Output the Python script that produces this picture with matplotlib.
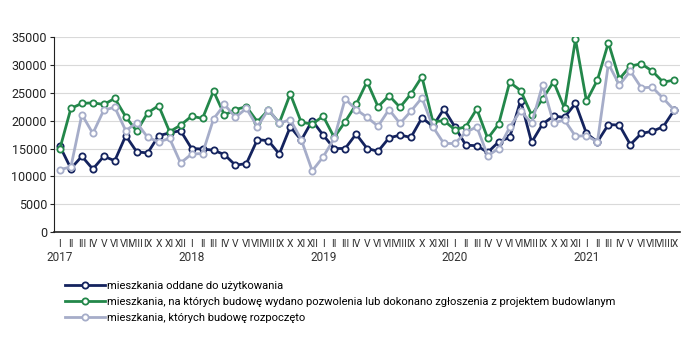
import matplotlib
matplotlib.use("Agg")
import matplotlib.pyplot as plt
import matplotlib.transforms as mtransforms
import numpy as np

plt.rcParams['font.family'] = ['Roboto', 'DejaVu Sans']

# monthly data, I 2017 - IX 2021
months = ["I", "II", "III", "IV", "V", "VI", "VII", "VIII", "IX", "X", "XI", "XII"]
years = ["2017", "2018", "2019", "2020", "2021"]

oddane = [15.4, 11.4, 13.6, 11.3, 13.6, 12.8, 17.3, 14.4, 14.2, 17.3, 17.8, 18.2,
          15.0, 14.9, 14.7, 13.9, 12.0, 12.3, 16.6, 16.4, 14.0, 18.9, 16.5, 20.0,
          17.4, 15.0, 15.0, 17.6, 15.0, 14.5, 16.9, 17.4, 17.0, 20.5, 19.0, 22.1,
          18.9, 15.6, 15.5, 14.3, 16.2, 17.0, 23.6, 16.1, 19.4, 20.8, 20.6, 23.1,
          17.7, 16.2, 19.3, 19.2, 15.7, 17.7, 18.1, 18.9, 21.9]

pozwolenia = [15.0, 22.2, 23.1, 23.2, 22.9, 24.0, 20.7, 18.1, 21.4, 22.7, 18.0, 19.2,
              20.8, 20.4, 25.3, 21.0, 22.0, 22.5, 19.8, 21.9, 19.6, 24.8, 19.7, 19.4,
              20.8, 17.0, 19.8, 22.9, 27.0, 22.5, 24.5, 22.4, 24.8, 27.9, 19.8, 20.0,
              18.4, 18.9, 22.1, 16.8, 19.4, 26.9, 25.4, 21.0, 23.9, 27.0, 22.2, 34.6,
              23.5, 27.3, 34.0, 27.5, 29.8, 30.2, 28.9, 26.9, 27.3]

rozpoczete = [11.2, 11.7, 21.1, 17.7, 21.9, 22.4, 18.2, 19.6, 17.0, 16.2, 16.8, 12.4,
              14.0, 14.1, 20.3, 22.9, 20.6, 22.2, 18.9, 22.0, 19.5, 20.2, 16.6, 11.0,
              13.5, 16.8, 23.9, 22.0, 20.6, 19.0, 22.0, 19.5, 21.7, 24.1, 18.9, 15.9,
              15.9, 17.9, 18.9, 13.7, 15.0, 18.8, 21.8, 19.5, 26.4, 19.6, 20.1, 17.2,
              17.3, 16.2, 30.2, 26.4, 28.9, 25.9, 26.0, 24.0, 21.9]

labels = ["mieszkania oddane do użytkowania",
          "mieszkania, na których budowę wydano pozwolenia lub dokonano zgłoszenia z projektem budowlanym",
          "mieszkania, których budowę rozpoczęto"]
colors = ["#14235e", "#23874a", "#a6adc9"]

x = np.arange(len(oddane))
tick_labels = [months[i % 12] for i in x]

fig = plt.figure(figsize=(7, 3.5), dpi=100)
ax = fig.add_axes([0.077, 0.337, 0.894, 0.557])

for series, label, color in zip([oddane, pozwolenia, rozpoczete], labels, colors):
    ax.plot(x, np.array(series) * 1000, color=color, linewidth=2, label=label,
            marker='o', markersize=4.5, markerfacecolor='white',
            markeredgecolor=color, markeredgewidth=1.3)

ax.set_ylim(0, 35000)
ax.set_xlim(-0.55, 56.5)
ax.set_yticks(np.arange(0, 35001, 5000))
ax.tick_params(axis='y', labelsize=9, length=3, width=0.8, pad=2, colors='#222222')
ax.set_xticks(x)
ax.set_xticklabels(tick_labels, fontsize=7.5, color='#333333')
ax.tick_params(axis='x', length=0, pad=5)
ax.grid(axis='y', color='#d9d9d9', linewidth=0.8)
ax.set_axisbelow(True)
for s in ['top', 'right']:
    ax.spines[s].set_visible(False)
ax.spines['left'].set_color('#222222')
ax.spines['bottom'].set_color('#222222')
ax.spines['bottom'].set_linewidth(1.2)

# year labels under January
trans = mtransforms.blended_transform_factory(ax.transData, ax.transAxes)
for i, yr in enumerate(years):
    ax.text(i * 12, -0.13, yr, transform=trans, ha='center', va='center',
            fontsize=8.5, color='#333333')

fig.legend(loc='upper left', bbox_to_anchor=(0.093, 0.197), frameon=False,
           fontsize=8, handlelength=3.6, handletextpad=0.2, labelspacing=0.55,
           borderaxespad=0, borderpad=0)

fig.savefig("out.png", dpi=100)
